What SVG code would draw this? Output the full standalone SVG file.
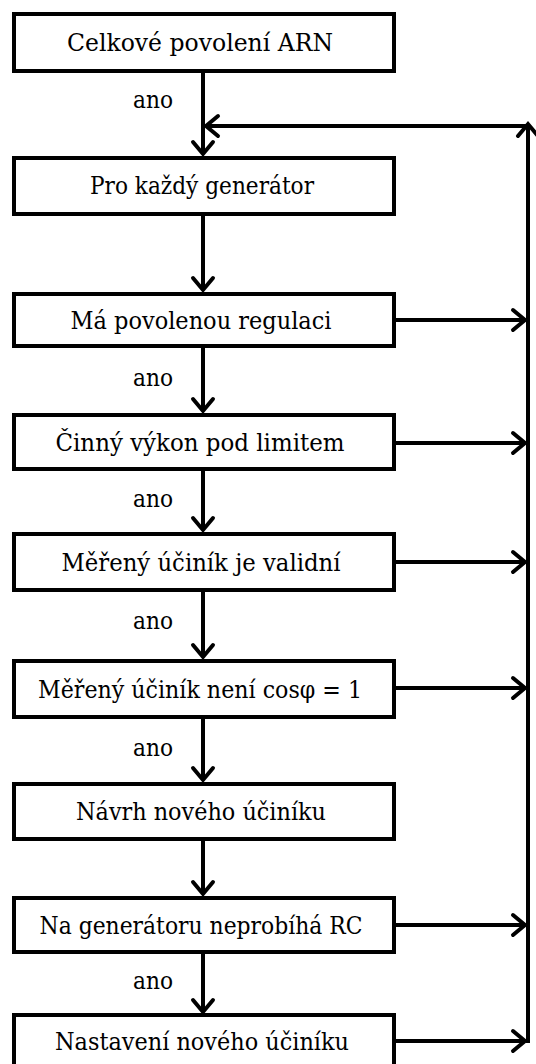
<svg xmlns="http://www.w3.org/2000/svg" width="536" height="1064" viewBox="0 0 536 1064">
<style>
.box{fill:#fff;stroke:#000;stroke-width:4}
text{font-family:'DejaVu Serif',serif;font-size:25px;fill:#000}
.t{text-anchor:middle}
.c{fill:none;stroke:#000;stroke-width:4;marker-end:url(#arr)}
</style>
<defs>
<marker id="arr" markerUnits="userSpaceOnUse" markerWidth="30" markerHeight="30" refX="15" refY="11" orient="auto" overflow="visible">
<path d="M3,1 L15,11 L3,21" fill="none" stroke="#000" stroke-width="4" stroke-linejoin="miter" stroke-linecap="round"/>
</marker>
</defs>
<rect width="536" height="1064" fill="#fff"/>
<g id="connectors">
<line class="c" x1="203" y1="72" x2="203" y2="154"/>
<line class="c" x1="203" y1="215" x2="203" y2="290"/>
<line class="c" x1="203" y1="347" x2="203" y2="411"/>
<line class="c" x1="203" y1="470" x2="203" y2="530"/>
<line class="c" x1="203" y1="591" x2="203" y2="657"/>
<line class="c" x1="203" y1="718" x2="203" y2="780"/>
<line class="c" x1="203" y1="840" x2="203" y2="894"/>
<line class="c" x1="203" y1="953" x2="203" y2="1012"/>
<line class="c" x1="396" y1="320" x2="525" y2="320"/>
<line class="c" x1="396" y1="443" x2="525" y2="443"/>
<line class="c" x1="396" y1="562" x2="525" y2="562"/>
<line class="c" x1="396" y1="688" x2="525" y2="688"/>
<line class="c" x1="396" y1="925" x2="525" y2="925"/>
<line class="c" x1="396" y1="1041" x2="525" y2="1041"/>
<line class="c" x1="528" y1="1043" x2="528" y2="124"/>
<line class="c" x1="530" y1="126" x2="206" y2="126"/>
<text x="133" y="108" textLength="40" lengthAdjust="spacingAndGlyphs">ano</text>
<text x="133" y="386" textLength="40" lengthAdjust="spacingAndGlyphs">ano</text>
<text x="133" y="507" textLength="40" lengthAdjust="spacingAndGlyphs">ano</text>
<text x="133" y="629" textLength="40" lengthAdjust="spacingAndGlyphs">ano</text>
<text x="133" y="756" textLength="40" lengthAdjust="spacingAndGlyphs">ano</text>
<text x="133" y="989" textLength="40" lengthAdjust="spacingAndGlyphs">ano</text>
</g>
<g id="n1"><rect class="box" x="14" y="14" width="380" height="57"/><text class="t" x="200" y="51" textLength="266" lengthAdjust="spacingAndGlyphs">Celkové povolení ARN</text></g>
<g id="n2"><rect class="box" x="14" y="158" width="380" height="56"/><text class="t" x="202" y="194" textLength="224" lengthAdjust="spacingAndGlyphs">Pro každý generátor</text></g>
<g id="n3"><rect class="box" x="14" y="294" width="380" height="52"/><text class="t" x="201" y="329" textLength="261" lengthAdjust="spacingAndGlyphs">Má povolenou regulaci</text></g>
<g id="n4"><rect class="box" x="14" y="415" width="380" height="54"/><text class="t" x="200" y="451" textLength="289" lengthAdjust="spacingAndGlyphs">Činný výkon pod limitem</text></g>
<g id="n5"><rect class="box" x="14" y="534" width="380" height="56"/><text class="t" x="201" y="571" textLength="279" lengthAdjust="spacingAndGlyphs">Měřený účiník je validní</text></g>
<g id="n6"><rect class="box" x="14" y="661" width="380" height="56"/><text class="t" x="200" y="698" textLength="324" lengthAdjust="spacingAndGlyphs">Měřený účiník není cosφ = 1</text></g>
<g id="n7"><rect class="box" x="14" y="784" width="380" height="55"/><text class="t" x="201" y="820" textLength="250" lengthAdjust="spacingAndGlyphs">Návrh nového účiníku</text></g>
<g id="n8"><rect class="box" x="14" y="898" width="380" height="54"/><text class="t" x="201" y="934" textLength="323" lengthAdjust="spacingAndGlyphs">Na generátoru neprobíhá RC</text></g>
<g id="n9"><rect class="box" x="14" y="1015" width="380" height="60"/><text class="t" x="202" y="1050" textLength="294" lengthAdjust="spacingAndGlyphs">Nastavení nového účiníku</text></g>
</svg>
